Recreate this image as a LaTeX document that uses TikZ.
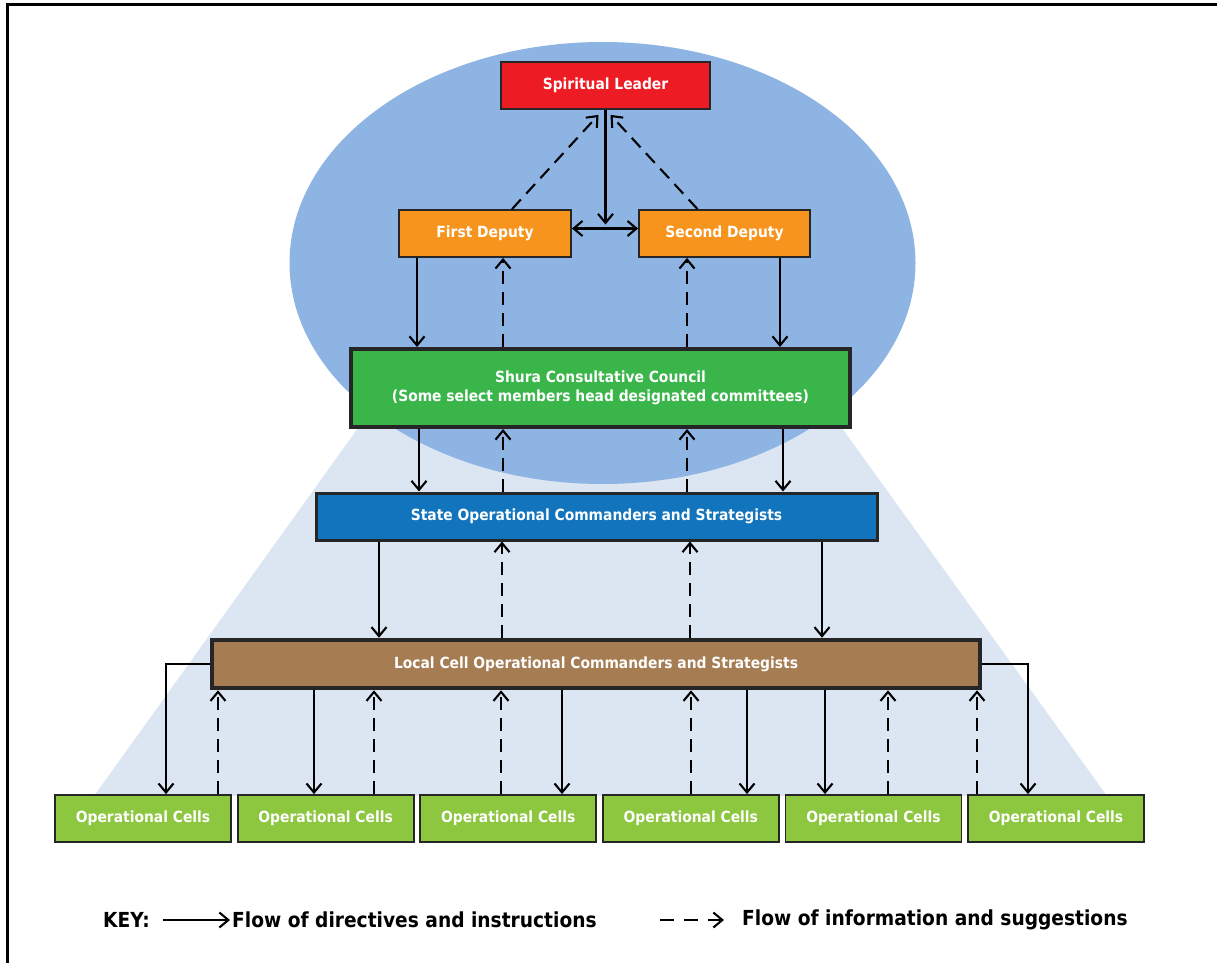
\documentclass[tikz,border=0pt]{standalone}
\usepackage{fontspec}
\setmainfont{DejaVu Sans}[FakeStretch=0.9]
\usetikzlibrary{arrows.meta,calc}
\definecolor{ovalblue}{HTML}{8EB4E3}
\definecolor{trapblue}{HTML}{DCE6F2}
\definecolor{leadred}{HTML}{ED1C24}
\definecolor{deputyorange}{HTML}{F7941D}
\definecolor{shuragreen}{HTML}{39B54A}
\definecolor{stateblue}{HTML}{1174BD}
\definecolor{localbrown}{HTML}{A67C52}
\definecolor{cellgreen}{HTML}{8DC63F}
\tikzset{barb/.tip={Straight Barb[length=9pt,width=15pt]}}
\begin{document}
\begin{tikzpicture}[x=1pt, y=-1pt,
  box/.style={draw=black!85, line width=1.8pt, text=white, inner sep=0pt,
    minimum height=47pt, align=center,
    font=\fontsize{15.4}{19}\selectfont\bfseries},
  keytext/.style={inner sep=0pt, font=\fontsize{20.7}{24}\selectfont\bfseries},
  flow/.style={line width=2.1pt, -barb},
  info/.style={flow, dash pattern=on 13pt off 8pt}]
  \useasboundingbox (0,0) rectangle (1217,963);
  % frame and backdrop
  \draw[line width=3pt] (7,963) -- (7,5) -- (1217,5);
  \fill[trapblue] (358,428) -- (842,428) -- (1107,796) -- (94,796) -- cycle;
  \fill[ovalblue] (602.5,263) ellipse [x radius=313pt, y radius=221pt];
  % boxes
  \node[box, fill=leadred, minimum width=209pt] (lead) at (605.5,85.5) {Spiritual Leader};
  \node[box, fill=deputyorange, minimum width=172pt] (dep1) at (485,233.5) {First Deputy};
  \node[box, fill=deputyorange, minimum width=171pt] (dep2) at (724.5,233.5) {Second Deputy};
  \node[box, fill=shuragreen, line width=4pt, minimum width=499pt, minimum height=78pt]
    (shura) at (600.5,388) {Shura Consultative Council\\(Some select members head designated committees)};
  \node[box, fill=stateblue, line width=3pt, minimum width=561pt] (state) at (596.5,516.5)
    {State Operational Commanders and Strategists};
  \node[box, fill=localbrown, line width=4.5pt, minimum width=768pt, minimum height=48pt]
    (local) at (596,664) {Local Cell Operational Commanders and Strategists};
  \foreach \i/\x in {1/143,2/325.6,3/508.2,4/690.8,5/873.4,6/1056}
    \node[box, fill=cellgreen, minimum width=176pt] (c\i) at (\x,818.5) {Operational Cells};
  % top of the hierarchy
  \coordinate (hub) at (lead.south |- dep1.east);
  \draw[flow] (lead.south) -- ([yshift=9pt]hub);
  \draw[flow, barb-barb] ([yshift=5pt]dep1.east) -- ([yshift=5pt]dep2.west);
  \draw[info] ([xshift=27pt]dep1.north) -- ([xshift=-7pt,yshift=-5pt]lead.south);
  \draw[info] ([xshift=-27pt]dep2.north) -- ([xshift=5pt,yshift=-5pt]lead.south);
  % directives down, information up
  \foreach \x/\from/\to in {417/dep1/shura, 780/dep2/shura, 419/shura/state,
      783/shura/state, 379/state/local, 822/state/local}
    \draw[flow] (\x,0 |- \from.south) -- (\x,0 |- \to.north);
  \foreach \x/\from/\to in {503/shura/dep1, 687/shura/dep2, 503/state/shura,
      687/state/shura, 502/local/state, 690/local/state}
    \draw[info] (\x,0 |- \from.north) -- (\x,0 |- \to.south);
  % local cells to operational cells
  \foreach \x/\c in {314/2, 562/3, 747/4, 825/5}
    \draw[flow] (\x,0 |- local.south) -- (\x,0 |- c\c.north);
  \foreach \x/\c in {218/1, 374/2, 501/3, 691/4, 888/5, 977/6}
    \draw[info] (\x,0 |- c\c.north) -- (\x,0 |- local.south);
  \draw[flow] (local.west) -| (166,0 |- c1.north);
  \draw[flow] (local.east) -| (1028,0 |- c6.north);
  % key
  \node[keytext, anchor=west] (key) at (103,920) {KEY:};
  \coordinate (k1) at (163,920);
  \coordinate (k2) at (230,920);
  \draw[flow] (k1) -- (k2);
  \node[keytext, anchor=west] (directives) at (232,920) {Flow of directives and instructions};
  \coordinate (k3) at (660,920);
  \coordinate (k4) at (724,920);
  \draw[info, dash pattern=on 14pt off 10pt] (k3) -- (k4);
  \node[keytext, anchor=west] (information) at (742,920) {Flow of information and suggestions};
\end{tikzpicture}
\end{document}
